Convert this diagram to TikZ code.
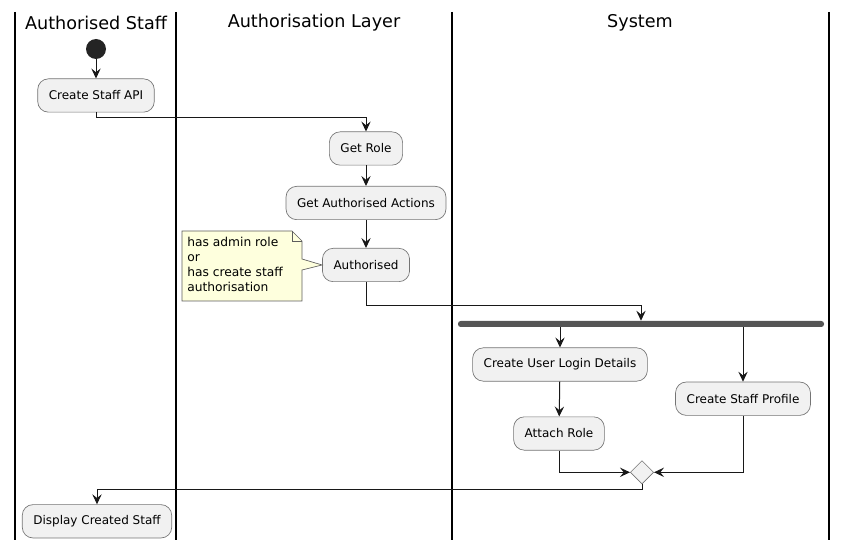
\documentclass[tikz,border=0pt]{standalone}
\usepackage{fontspec}
\setmainfont{DejaVu Sans}
\usetikzlibrary{arrows.meta,shapes.geometric}
\definecolor{actfill}{HTML}{F1F1F1}
\definecolor{actline}{HTML}{181818}
\definecolor{notefill}{HTML}{FEFFDD}
\definecolor{barcol}{HTML}{555555}
\tikzset{
  act/.style={draw=actline!60, line width=0.5pt, fill=actfill, rounded corners=8pt,
    minimum height=25pt, inner xsep=8.3pt, inner ysep=0pt, font=\fontsize{9pt}{11pt}\selectfont},
  lanetitle/.style={font=\fontsize{13.2pt}{15pt}\selectfont},
  laneline/.style={line width=1.5pt, black},
  arr/.style={draw=actline, line width=0.75pt, -{Stealth[length=7.5pt, width=7pt, inset=2.8pt]}},
  conn/.style={draw=actline, line width=0.75pt},
}
\begin{document}
\begin{tikzpicture}[x=0.75pt, y=-0.75pt]
\useasboundingbox (0,0) rectangle (847,549);
% swimlanes
\draw[laneline] (15,12) -- (15,540);
\draw[laneline] (176,12) -- (176,540);
\draw[laneline] (452,12) -- (452,540);
\draw[laneline] (829,12) -- (829,540);
\node[lanetitle] (t1) at (96,23) {Authorised Staff};
\node[lanetitle] (t2) at (314,23) {Authorisation Layer};
\node[lanetitle] (t3) at (640,23) {System};
% nodes
\node[circle, fill=actline!95!white, minimum size=15pt, inner sep=0pt] (start) at (96,49) {};
\node[act] (csa) at (96,95.5) {Create Staff API};
\node[act] (gr) at (366,148.5) {Get Role};
\node[act] (gaa) at (366,203) {Get Authorised Actions};
\node[act] (auth) at (366,265) {Authorised};
\node[fill=barcol, rounded corners=2pt, minimum width=274.5pt, minimum height=4.5pt, inner sep=0pt] (fork) at (641,324) {};
\node[act] (cul) at (560,364.5) {Create User Login Details};
\node[act] (ar) at (559,433.5) {Attach Role};
\node[act] (csp) at (743,398.7) {Create Staff Profile};
\node[diamond, draw=actline!60, line width=0.5pt, fill=actfill, minimum size=17.5pt, inner sep=0pt] (mg) at (642,472.3) {};
\node[act] (dcs) at (97,521.3) {Display Created Staff};
% note
\draw[draw=actline!70, line width=0.5pt, fill=notefill]
  (182,231) -- (292,231) -- (302,241) -- (302,259) -- (auth.west) -- (302,270) -- (302,301) -- (182,301) -- cycle;
\draw[draw=actline!70, line width=0.5pt] (292,231) -- (292,241) -- (302,241);
\node[anchor=north west, align=left, inner sep=0pt, font=\fontsize{9.2pt}{11.4pt}\selectfont] (note) at (187,236.5)
  {has admin role\\or\\has create staff\\authorisation};
% connectors
\draw[arr] (start) -- (csa);
\draw[arr] (csa.south) -- ++(0,5) -| (gr.north);
\draw[arr] (gr) -- (gaa);
\draw[arr] (gaa) -- (auth);
\draw[arr] (auth.south) -- ++(0,24) -| (fork.north);
\draw[arr] (fork.south -| cul.north) -- (cul.north);
\draw[arr] (fork.south -| csp.north) -- (csp.north);
\draw[arr] (cul) -- (ar);
\draw[arr] (ar.south) |- (mg.west);
\draw[arr] (csp.south) |- (mg.east);
\draw[arr] (mg.south) -- ++(0,5) -| (dcs.north);
\end{tikzpicture}
\end{document}
